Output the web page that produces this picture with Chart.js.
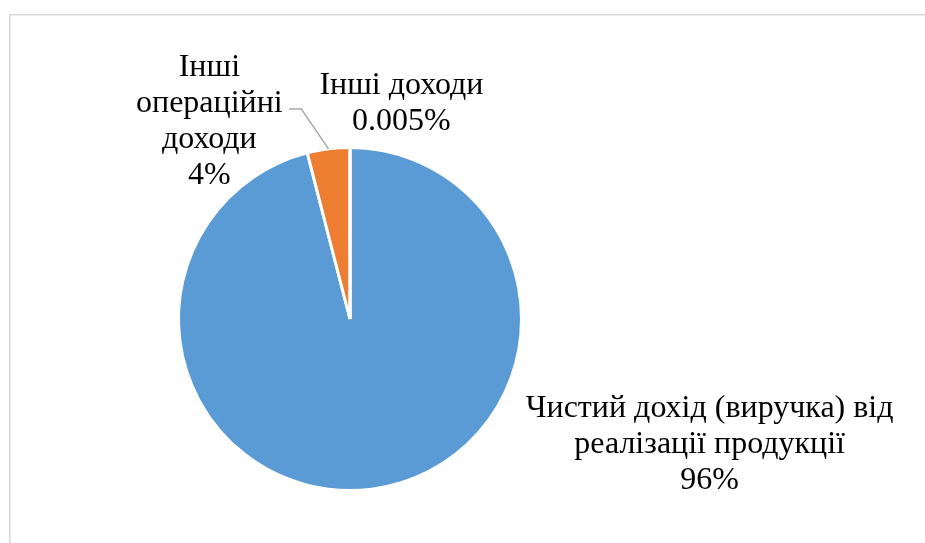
<!DOCTYPE html>
<html>
<head>
<meta charset="utf-8">
<script src="https://cdn.jsdelivr.net/npm/chart.js@4"></script>
<style>
  html, body { margin: 0; padding: 0; background: #fff; }
  #wrap { width: 925px; height: 543px; }
</style>
</head>
<body>
<div id="wrap"><canvas id="pie_Chart"></canvas></div>
<script>
// data
const categories = [
    ['Чистий дохід (виручка) від', 'реалізації продукції'],
    ['Інші', 'операційні', 'доходи'],
    ['Інші доходи']
];
const shares = [96, 4, 0.005];
const share_labels = ['96%', '4%', '0.005%'];
const colours = ['#5b9bd5', '#ed7d31', '#a5a5a5'];

// where each label sits, relative to pie centre, in units of radius
const label_pos = [
    { dx: 2.097, dy: 0.73 },
    { dx: -0.82, dy: -1.15 },
    { dx: 0.30, dy: -1.257 }
];

const frame = {
    id: 'frame',
    beforeDraw(chart) {
        const c = chart.ctx;
        c.save();
        c.strokeStyle = '#d9d9d9';
        c.lineWidth = 1.5;
        c.strokeRect(9.75, 14.75, 1200, 1200);
        c.restore();
    }
};

const pieLabels = {
    id: 'pieLabels',
    afterDraw(chart) {
        const c = chart.ctx;
        const meta = chart.getDatasetMeta(0);
        c.save();
        c.font = '32px "Liberation Serif", "Times New Roman", serif';
        c.fillStyle = '#000';
        c.textAlign = 'center';
        c.textBaseline = 'middle';
        const lh = 36;
        meta.data.forEach((arc, i) => {
            const r = arc.outerRadius;
            const x = arc.x + label_pos[i].dx * r;
            const y = arc.y + label_pos[i].dy * r;
            const lines = categories[i].concat([share_labels[i]]);
            const top = y - (lines.length - 1) * lh / 2;
            lines.forEach((t, k) => c.fillText(t, x, top + k * lh));

            // leader line for the small orange slice
            if (i === 1) {
                const mid = (arc.startAngle + arc.endAngle) / 2;
                const px = arc.x + Math.cos(mid) * r;
                const py = arc.y + Math.sin(mid) * r;
                c.strokeStyle = '#a6a6a6';
                c.lineWidth = 1.5;
                c.beginPath();
                c.moveTo(px, py);
                c.lineTo(arc.x - 0.284 * r, arc.y - 1.225 * r);
                c.lineTo(arc.x - 0.355 * r, arc.y - 1.225 * r);
                c.stroke();
            }
        });
        c.restore();
    }
};

let ctx = document.getElementById('pie_Chart');
let pie_Chart = new Chart(ctx, {
    type: 'pie',
    data: {
        labels: categories.map(l => l.join(' ')),
        datasets: [{
            data: shares,
            backgroundColor: colours,
            borderColor: '#ffffff',
            borderWidth: 3,
        }]
    },
    options: {
        responsive: true,
        maintainAspectRatio: false,
        animation: false,
        layout: {
            padding: { left: 177, right: 402, top: 146, bottom: 51 }
        },
        plugins: {
            legend: { display: false },
            tooltip: { enabled: false }
        }
    },
    plugins: [frame, pieLabels]
});
</script>
</body>
</html>
